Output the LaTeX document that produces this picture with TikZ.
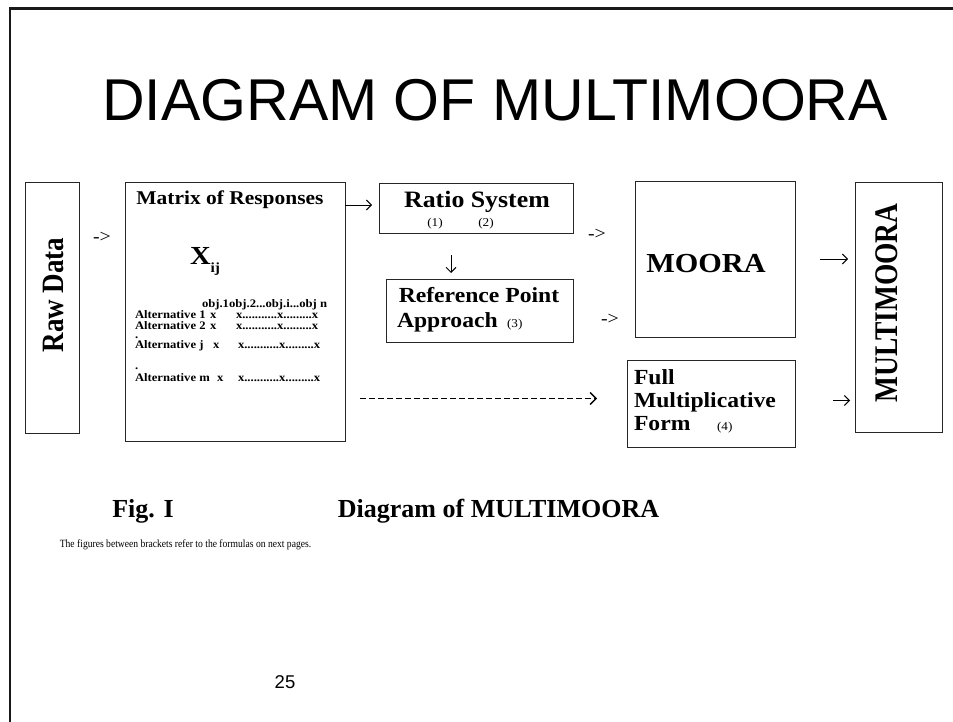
\documentclass[tikz,border=0pt]{standalone}
\usepackage{fontspec}
\setmainfont{Liberation Serif}
\newfontfamily\wserif{Liberation Serif}[FakeStretch=1.1]
\newfontfamily\arial{Liberation Sans}
\usetikzlibrary{arrows.meta,calc}
\newcommand\fs[1]{\fontsize{#1}{#1}\selectfont}
\tikzset{
  box/.style={draw=black!85, line width=0.9pt, inner sep=0pt, outer sep=0pt, anchor=north west},
  txt/.style={inner sep=0pt, outer sep=0pt, anchor=base, font=\wserif\bfseries},
  txtw/.style={inner sep=0pt, outer sep=0pt, anchor=base west, font=\wserif\bfseries},
  arr/.style={line width=0.9pt, -{Straight Barb[length=5pt,width=10pt,line width=0.9pt]}},
  dasharr/.style={line width=1.1pt, dash pattern=on 6pt off 3pt, -{Straight Barb[length=6pt,width=12pt,line width=1.3pt,sep=0pt]}},
  border/.style={line width=2.2pt, black!90}
}
\begin{document}
\begin{tikzpicture}[x=1pt,y=-1pt]
\useasboundingbox (0,0) rectangle (953,722);
\fill[white] (0,0) rectangle (953,722);
% slide border
\draw[border] (10,722) -- (10,8.5) -- (953,8.5);
% title
\node[txt, font=\arial] (title) at (495,121) {\fs{59}DIAGRAM OF MULTIMOORA};

% boxes
\node[box, minimum width=54, minimum height=251] (raw) at (25,182) {};
\node[box, minimum width=220, minimum height=259] (mat) at (125,182) {};
\node[box, minimum width=194, minimum height=50] (rs) at (379,183) {};
\node[box, minimum width=187, minimum height=63] (ref) at (386,279) {};
\node[box, minimum width=160, minimum height=156] (moora) at (635,181) {};
\node[box, minimum width=168, minimum height=87] (full) at (627,360) {};
\node[box, minimum width=87, minimum height=250] (multi) at (855,182) {};

% raw data
\node[inner sep=0pt, font=\bfseries] (rawt) at (53,295) {\rotatebox{90}{\scalebox{1}[1.15]{\fs{27}Raw Data}}};
\node[txt, font=\wserif] (a1) at (102,243) {\fs{18}->};

% matrix
\node[txt] (mtitle) at (230,205) {\fs{19.5}Matrix of Responses};
\node[txtw] (xij) at (190,264) {\fs{26}X\raisebox{-8pt}{\fs{14}ij}};
\node[txtw] (hdr) at (202,307) {\fs{11.5}obj.1obj.2...obj.i...obj n};
\node[txtw, align=left, font=\wserif\bfseries\fontsize{11.5}{11}\selectfont] (labels) at (135,381)
  {Alternative 1\\Alternative 2\\[-2pt].\\[-1pt]Alternative j\\[10pt].\\[1pt]Alternative m};
\node[txtw] (r1x) at (210,318) {\fs{11.5}x};
\node[txtw] (r1d) at (236,318) {\fs{11.5}x...........x.........x};
\node[txtw] (r2x) at (210,329) {\fs{11.5}x};
\node[txtw] (r2d) at (236,329) {\fs{11.5}x...........x.........x};
\node[txtw] (rjx) at (213,348) {\fs{11.5}x};
\node[txtw] (rjd) at (238,348) {\fs{11.5}x...........x.........x};
\node[txtw] (rmx) at (217,381) {\fs{11.5}x};
\node[txtw] (rmd) at (238,381) {\fs{11.5}x...........x.........x};

% ratio system
\node[txt] (rst) at (477,208) {\fs{23.5}Ratio System};
\node[txt, font=\wserif] (f1) at (435,227) {\fs{12}(1)};
\node[txt, font=\wserif] (f2) at (486,227) {\fs{12}(2)};

% reference point
\node[txt] (reft) at (479,302) {\fs{21.5}Reference Point};
\node[txtw] (appr) at (397,327) {\fs{21.5}Approach};
\node[txtw, font=\wserif] (f3) at (507,327) {\fs{12}(3)};

\node[txt, font=\wserif] (a2) at (597,240) {\fs{18}->};
\node[txt, font=\wserif] (a3) at (610,324) {\fs{18}->};

% moora
\node[txt] (moorat) at (706,272) {\fs{27.5}MOORA};

% full multiplicative
\node[txtw] (fl1) at (634,384) {\fs{21.5}Full};
\node[txtw] (fl2) at (634,407) {\fs{21.5}Multiplicative};
\node[txtw] (fl3) at (634,430) {\fs{21.5}Form};
\node[txtw, font=\wserif] (f4) at (717,430) {\fs{12}(4)};

% multimoora
\node[inner sep=0pt, font=\bfseries] (multit) at (887,303) {\rotatebox{90}{\scalebox{1}[1.2]{\fs{27.5}MULTIMOORA}}};

% connectors
\draw[arr] ($(mat.east |- rs.west)+(0,-3)$) -- ($(rs.west)+(-7,-3)$);
\draw[arr] ($(rs.south)+(-25,22)$) -- ($(ref.north)+(-28.5,-6)$);
\draw[arr] ($(moora.east)+(25,0)$) -- ($(moora.east -| multi.west)+(-7,0)$);
\draw[arr] ($(full.east)+(38,-3)$) -- ($(full.east -| multi.west)+(-5,-3)$);
\draw[dasharr] ($(mat.east |- full.west)+(15,-5)$) -- ($(full.west)+(-30,-5)$);

% caption
\node[txt, font=\bfseries] (fig) at (143,517) {\fs{26}Fig. I};
\node[txt, font=\bfseries] (cap) at (498.5,517) {\fs{26}Diagram of MULTIMOORA};
\node[txt, font=\rmfamily] (note) at (185.5,547) {\scalebox{1}[1.15]{\fs{9.6}The figures between brackets refer to the formulas on next pages.}};
\node[txt, font=\arial] (pg) at (285,688) {\fs{18.5}25};
\end{tikzpicture}
\end{document}
